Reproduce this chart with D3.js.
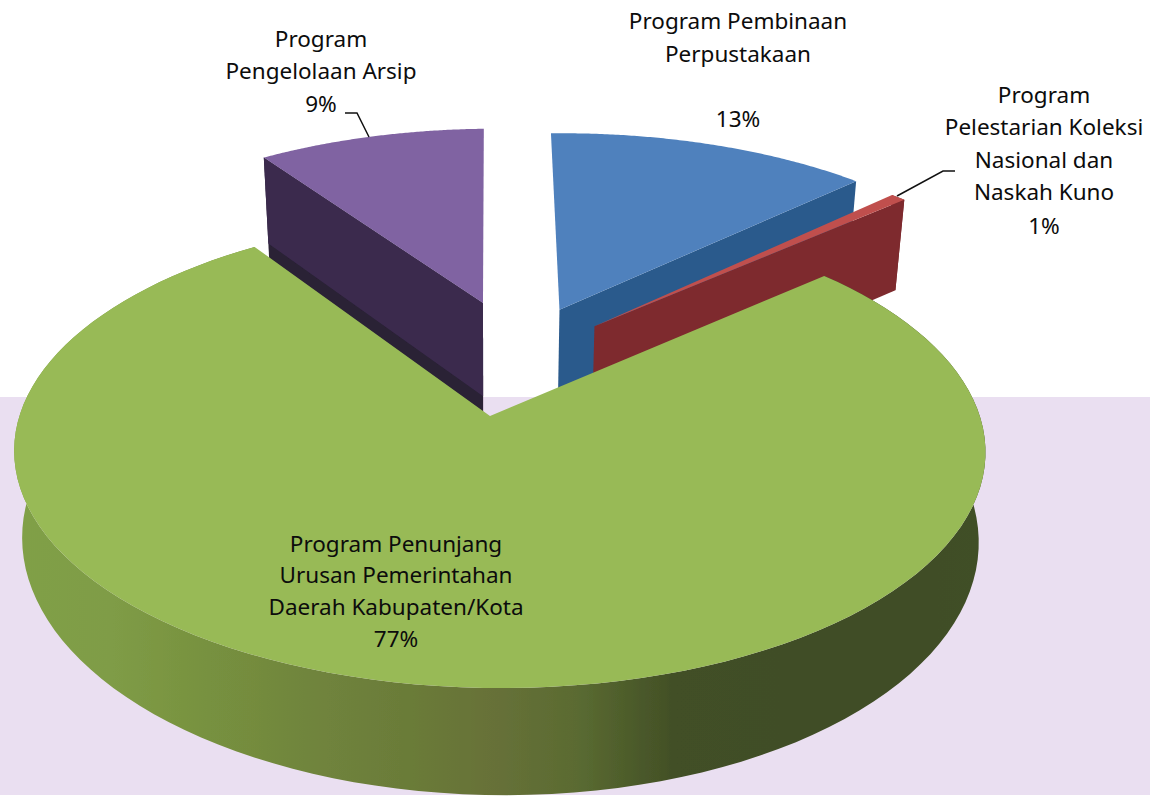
<!DOCTYPE html>
<html><head><meta charset="utf-8">
<script src="https://cdn.jsdelivr.net/npm/d3@7"></script>
<style>html,body{margin:0;padding:0;background:#fff}svg{display:block}text{font-family:"Noto Sans",sans-serif;font-size:22.5px;fill:#0c0c0c}</style>
</head><body><div id="c"></div>
<script>
const categories=["Program Pembinaan Perpustakaan","Program Pelestarian Koleksi Nasional dan Naskah Kuno","Program Penunjang Urusan Pemerintahan Daerah Kabupaten/Kota","Program Pengelolaan Arsip"];
const shares=[13.0,0.6,77.0,9.4];
const labelLines=[
 ["Program Pembinaan","Perpustakaan","","13%"],
 ["Program","Pelestarian Koleksi","Nasional dan","Naskah Kuno","1%"],
 ["Program Penunjang","Urusan Pemerintahan","Daerah Kabupaten/Kota","77%"],
 ["Program","Pengelolaan Arsip","9%"]];
const topColors=["#4f81bd","#c0504d","#98ba56","#8064a2"];
const wallColors=["#2b5a8c","#7e2a2e","#5f7534","#3b2b4e"];
const explodeU=[0.155,0.23,0,-0.0158];
const explodeV=[-0.4924,-0.41,0,-0.5274];

const W=1150,H=798;
const svg=d3.select("#c").append("svg").attr("width",W).attr("height",H);
const defs=svg.append("defs");
defs.append("filter").attr("id","soft").append("feGaussianBlur").attr("stdDeviation",0.6);
const grad=defs.append("linearGradient").attr("id","wallGrad").attr("gradientUnits","userSpaceOnUse")
  .attr("x1",15).attr("x2",985).attr("y1",0).attr("y2",0);
[[0,"#80a046"],[.1,"#7f9c46"],[.2,"#77913f"],[.3,"#70853d"],[.42,"#6a7a38"],[.5,"#667038"],[.58,"#5a6b31"],[.68,"#424f26"],[.9,"#3f4d25"],[1,"#414f26"]]
 .forEach(s=>grad.append("stop").attr("offset",s[0]).attr("stop-color",s[1]));

// page panel behind the chart
svg.append("rect").attr("x",0).attr("y",397).attr("width",W).attr("height",398).attr("fill","#eadff1");

// perspective projection of the unit disc (u right, v toward viewer, z down through the thickness)
const X0=490,Y0=416,A=480,B=231.2,D=100,k=0.15,m=0.02,c=0.025;
const project=(u,v,z,bs=1,ds=1,as=1)=>{const w=1-k*v-m*u+c*z;return [X0+10*(as-1)/0.01*0.1+A*as*u/w,Y0+(B*bs*v+D*ds*z)/w];};
const line=d3.line().curve(d3.curveLinear);
const arcs=d3.pie().sort(null).value(d=>d).startAngle(0).endAngle(2*Math.PI)(shares);
const g=svg.append("g").attr("filter","url(#soft)");
const rimPts=(i,a0,a1,z,bs=1,ds=1,as=1)=>d3.range(0,121).map(t=>{const a=a0+(a1-a0)*t/120;
  return project(explodeU[i]+Math.sin(a),explodeV[i]-Math.cos(a),z,bs,ds,as);});
const tip=(i,z)=>project(explodeU[i],explodeV[i],z);
const radial=(i,a,z)=>{const p=rimPts(i,a,a,0)[0],q=rimPts(i,a,a,z)[0];
  return [tip(i,0),p,q,tip(i,z)];};
const drawSlice=(i,walls)=>{
  const d=arcs[i];
  walls.forEach(wl=>{
    if(wl==="end") g.append("path").attr("d",line(radial(i,d.endAngle,1))+"Z").attr("fill",wallColors[i]);
    if(wl==="start"){
      g.append("path").attr("d",line(radial(i,d.startAngle,1.2))+"Z").attr("fill","#2a2036");
      g.append("path").attr("d",line(radial(i,d.startAngle,1))+"Z").attr("fill",wallColors[i]);
    }
    if(wl==="rim"){
      const bs=i===2?1.05:1, ds=i===2?0.889:1, as=i===2?1.01:1;
      const pts=rimPts(i,d.startAngle,d.endAngle,0).concat(rimPts(i,d.startAngle,d.endAngle,1,bs,ds,as).reverse());
      g.append("path").attr("d",line(pts)+"Z").attr("fill",i===2?"url(#wallGrad)":wallColors[i]);
    }
  });
  const top=[tip(i,0)].concat(rimPts(i,d.startAngle,d.endAngle,0));
  g.append("path").attr("d",line(top)+"Z").attr("fill",topColors[i]);
};
drawSlice(0,["end"]);
drawSlice(1,["rim","end"]);
drawSlice(3,["start"]);
drawSlice(2,["rim"]);

// leader lines
const lead=d3.line();
svg.append("path").attr("d",lead([[345,113],[357,113],[369,137]])).attr("fill","none").attr("stroke","#111").attr("stroke-width",1.5);
svg.append("path").attr("d",lead([[897,196],[943,171],[955,171]])).attr("fill","none").attr("stroke","#111").attr("stroke-width",1.5);

// labels
const labelX=[738,1044,396,321];
const labelY=[[29,62,0,127],[103,135,168,200,234],[552,583,615,647],[47,79,112]];
labelLines.forEach((ls,i)=>{
  const t=svg.append("text").attr("text-anchor","middle");
  ls.forEach((s,j)=>{ if(s) t.append("tspan").attr("x",labelX[i]).attr("y",labelY[i][j]).text(s); });
});
</script></body></html>
